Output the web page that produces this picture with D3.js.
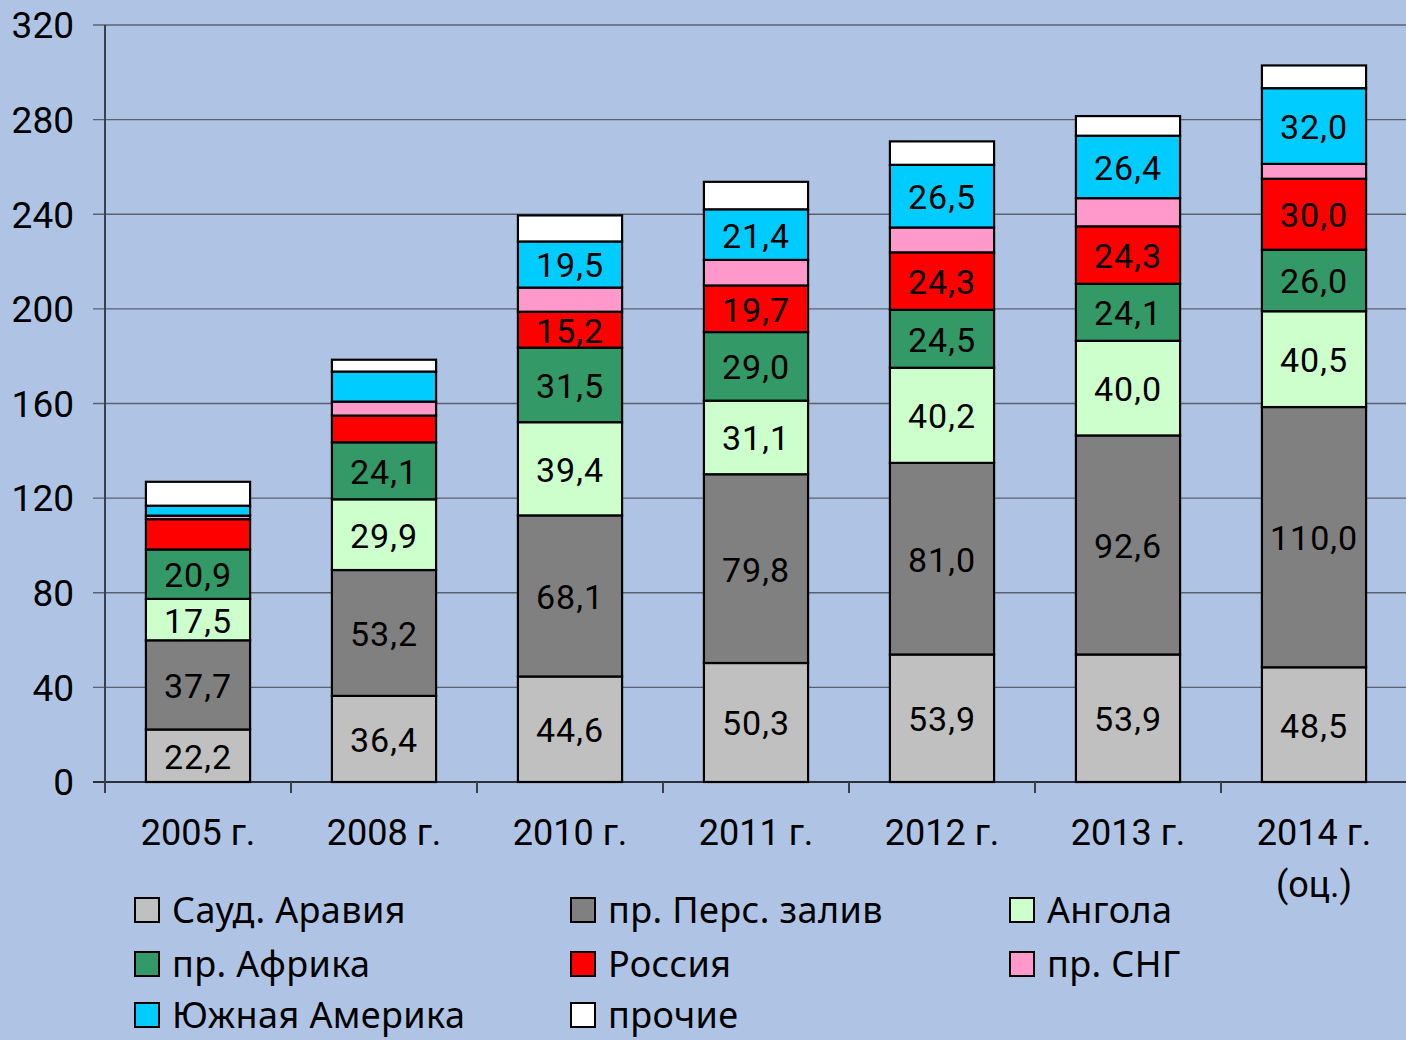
<!DOCTYPE html>
<html><head><meta charset="utf-8">
<script src="https://cdnjs.cloudflare.com/ajax/libs/d3/7.8.5/d3.min.js"></script>
<style>
html,body{margin:0;padding:0;background:#AFC4E5;}
svg{display:block;}
</style></head>
<body>
<svg id="chart" width="1406" height="1040"></svg>
<script>
const categories = ["2005 г.", "2008 г.", "2010 г.", "2011 г.", "2012 г.", "2013 г.", "2014 г.|(оц.)"];
const seriesNames = ["Сауд. Аравия", "пр. Перс. залив", "Ангола", "пр. Африка", "Россия", "пр. СНГ", "Южная Америка", "прочие"];
const seriesColors = ["#C0C0C0", "#808080", "#CCFFCC", "#339966", "#FF0000", "#FF99CC", "#00CCFF", "#FFFFFF"];
const saudi    = [22.2, 36.4, 44.6, 50.3, 53.9, 53.9, 48.5];
const gulf     = [37.7, 53.2, 68.1, 79.8, 81.0, 92.6, 110.0];
const angola   = [17.5, 29.9, 39.4, 31.1, 40.2, 40.0, 40.5];
const africa   = [20.9, 24.1, 31.5, 29.0, 24.5, 24.1, 26.0];
const russia   = [12.8, 11.3, 15.2, 19.7, 24.3, 24.3, 30.0];
const cis      = [1.5, 5.9, 10.2, 10.8, 10.5, 11.9, 6.3];
const samerica = [4.2, 12.7, 19.5, 21.4, 26.5, 26.4, 32.0];
const others   = [10.1, 5.0, 11.0, 11.6, 9.9, 8.3, 9.6];
// which segments carry a value label
const labelShown = [
  [1,1,1,1,1,1,1],
  [1,1,1,1,1,1,1],
  [1,1,1,1,1,1,1],
  [1,1,1,1,1,1,1],
  [0,0,1,1,1,1,1],
  [0,0,0,0,0,0,0],
  [0,0,1,1,1,1,1],
  [0,0,0,0,0,0,0]
];
const yTicks = [0, 40, 80, 120, 160, 200, 240, 280, 320];

const allSeries = [saudi, gulf, angola, africa, russia, cis, samerica, others];
const svg = d3.select("#chart");
const mLeft = 105, mTop = 25, mBottom = 782, mRight = 1407;

const x = d3.scaleBand().domain(categories).range([mLeft, mRight]).paddingInner(0.44).paddingOuter(0.22);
const y = d3.scaleLinear().domain([0, 320]).range([mBottom, mTop]);

// gridlines
svg.append("g").selectAll("line").data(yTicks).join("line")
  .attr("x1", mLeft - 12).attr("x2", 1406)
  .attr("y1", d => y(d)).attr("y2", d => y(d))
  .attr("stroke", d => d === 0 ? "#2a2f3a" : "#5b6070").attr("stroke-width", d => d === 0 ? 2 : 1.4);

// y axis line
svg.append("line").attr("x1", mLeft).attr("x2", mLeft).attr("y1", mTop).attr("y2", mBottom + 10)
  .attr("stroke", "#3a3f4a").attr("stroke-width", 2);

// y tick labels
svg.append("g").selectAll("text").data(yTicks).join("text")
  .attr("x", 74).attr("y", d => y(d)).attr("dy", "0.36em")
  .attr("text-anchor", "end").attr("font-family", "Roboto").attr("font-size", 37).attr("fill", "#000")
  .text(d => d);

// x ticks at band boundaries
svg.append("g").selectAll("line").data(categories.map((c,i)=>i)).join("line")
  .attr("x1", i => mLeft + i * x.step()).attr("x2", i => mLeft + i * x.step())
  .attr("y1", mBottom).attr("y2", mBottom + 11)
  .attr("stroke", "#3a3f4a").attr("stroke-width", 2);

// stack
const stackData = categories.map((c, i) => {
  const o = {cat: c, i};
  allSeries.forEach((s, k) => o["s" + k] = s[i]);
  return o;
});
const stack = d3.stack().keys(allSeries.map((s, k) => "s" + k));
const layers = stack(stackData);

const fmt = v => v.toFixed(1).replace(".", ",");

layers.forEach((layer, k) => {
  const g = svg.append("g");
  g.selectAll("rect").data(layer).join("rect")
    .attr("x", d => x(d.data.cat))
    .attr("width", x.bandwidth())
    .attr("y", d => y(d[1]))
    .attr("height", d => y(d[0]) - y(d[1]))
    .attr("fill", seriesColors[k])
    .attr("stroke", "#000").attr("stroke-width", 2.2);
});
layers.forEach((layer, k) => {
  svg.append("g").selectAll("text").data(layer.filter(d => labelShown[k][d.data.i])).join("text")
    .attr("x", d => x(d.data.cat) + x.bandwidth() / 2)
    .attr("y", d => (y(d[0]) + y(d[1])) / 2)
    .attr("dy", "0.38em")
    .attr("text-anchor", "middle")
    .attr("font-family", "Roboto").attr("font-size", 34).attr("letter-spacing", 1)
    .attr("fill", "#000")
    .text(d => fmt(d[1] - d[0]));
});

// x labels
const xl = svg.append("g").selectAll("text").data(categories).join("text")
  .attr("x", d => x(d) + x.bandwidth() / 2)
  .attr("y", 845)
  .attr("text-anchor", "middle")
  .attr("font-family", "Roboto").attr("font-size", 36).attr("fill", "#000");
xl.each(function(d) {
  const parts = d.split("|");
  const t = d3.select(this);
  parts.forEach((p, j) => {
    t.append("tspan").attr("x", x(d) + x.bandwidth() / 2).attr("dy", j === 0 ? 0 : 52).text(p);
  });
});

// legend
const legCols = [134, 570, 1009];
const legRows = [910, 964, 1015];
const leg = svg.append("g");
seriesNames.forEach((n, k) => {
  const cx = legCols[k % 3], cy = legRows[Math.floor(k / 3)];
  leg.append("rect").attr("x", cx + 1).attr("y", cy - 12).attr("width", 24).attr("height", 24)
    .attr("fill", seriesColors[k]).attr("stroke", "#000").attr("stroke-width", 2);
  leg.append("text").attr("x", cx + 38).attr("y", cy).attr("dy", "0.36em")
    .attr("font-family", "Noto Sans").attr("font-size", 36).attr("letter-spacing", 0.4)
    .attr("fill", "#000").text(n);
});
</script>
</body></html>
